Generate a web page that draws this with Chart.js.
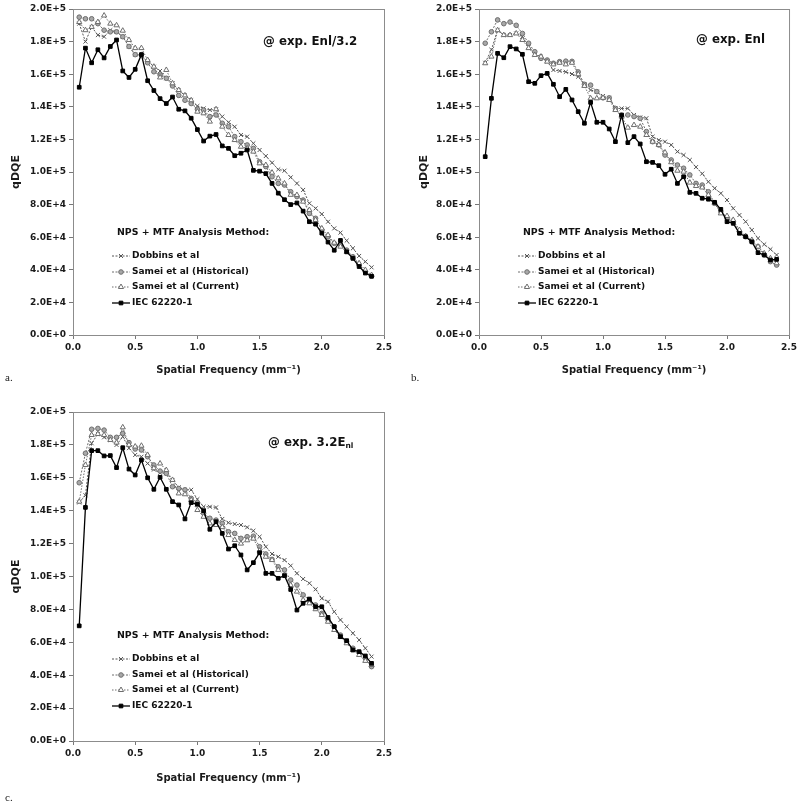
<!DOCTYPE html>
<html>
<head>
<meta charset="utf-8">
<script src="https://cdn.jsdelivr.net/npm/chart.js@4.4.0/dist/chart.umd.min.js"></script>
<style>
body { margin: 0; background: #fff; width: 800px; height: 806px; position: relative; overflow: hidden; }
canvas { position: absolute; }
.tag { position: absolute; font: 11px "Liberation Serif"; color: #222; }
</style>
</head>
<body>
<canvas id="chartA" width="400" height="390" style="left:0;top:0;width:400px;height:390px"></canvas>
<canvas id="chartB" width="395" height="390" style="left:405px;top:0;width:395px;height:390px"></canvas>
<canvas id="chartC" width="400" height="395" style="left:0;top:403px;width:400px;height:395px"></canvas>
<div class="tag" style="left:5px;top:371px">a.</div>
<div class="tag" style="left:411px;top:371px">b.</div>
<div class="tag" style="left:5px;top:791px">c.</div>
<script>
// spatial frequency (mm^-1)
const freq = [0.05, 0.1, 0.15, 0.2, 0.25, 0.3, 0.35, 0.4, 0.45, 0.5,
	0.55, 0.6, 0.65, 0.7, 0.75, 0.8, 0.85, 0.9, 0.95, 1.0,
	1.05, 1.1, 1.15, 1.2, 1.25, 1.3, 1.35, 1.4, 1.45, 1.5,
	1.55, 1.6, 1.65, 1.7, 1.75, 1.8, 1.85, 1.9, 1.95, 2.0,
	2.05, 2.1, 2.15, 2.2, 2.25, 2.3, 2.35, 2.4];

const seriesNames = ['Dobbins et al', 'Samei et al (Historical)', 'Samei et al (Current)', 'IEC 62220-1'];
const legendTitle = 'NPS + MTF Analysis Method:';
const xTitle = 'Spatial Frequency (mm\u207B\u00B9)';
const yTitle = 'qDQE';

// qDQE values in thousands (x 1E+3)
// panel a: @ exp. Enl/3.2
const dobbinsA = [191, 180, 189, 184, 183, 187, 186, 183, 177, 172,
	171, 168, 164.6, 162, 157.5, 154.4, 150, 147, 144, 140.5,
	139, 138, 138.5, 134, 130.5, 127.8, 122.7, 121.7, 117.6, 113.5,
	109.8, 105.7, 101.6, 100.8, 96.7, 93, 89, 80.8, 77.7, 74.2,
	69.5, 65.4, 62.8, 57.9, 53.2, 48.5, 45, 41.5];
const sameiHistA = [195, 194, 194, 191, 187, 186, 186, 183, 177, 172,
	172, 167, 161.5, 159.5, 157.5, 152.8, 147, 144, 142, 138.5,
	138, 134, 135, 129.9, 127.8, 121.7, 118.6, 116.6, 114.5, 106.3,
	103.3, 97.1, 93, 92, 87.9, 84.9, 82.8, 74.6, 71.6, 64.4,
	60.3, 56.2, 55.2, 52.1, 48, 42.9, 38.8, 36.2];
const sameiCurA = [192, 187, 189, 192, 196, 191, 190, 186.7, 181, 176,
	176, 168.7, 164.6, 158, 162.6, 154.4, 150.3, 147, 144, 137,
	136, 130.9, 138.5, 127.8, 122.7, 119.6, 115.5, 114.5, 112.5, 105.3,
	104.3, 99.6, 96.1, 93, 86, 85.9, 81.8, 76.7, 70.6, 65.4,
	61.3, 56.6, 54.2, 51.1, 47.7, 44, 39.9, 36.8];
const iecA = [152, 176, 167, 175, 170, 177, 181, 162, 158, 163,
	172, 156, 150, 145, 142, 146, 138.5, 137.5, 133, 126,
	119, 122, 123, 116, 114.5, 110, 111.5, 113.5, 101, 100.5,
	99, 93, 87, 83, 80, 81, 76, 69.5, 68, 62.5,
	57, 52, 58, 51, 47, 42, 38, 36];

// panel b: @ exp. Enl
const dobbinsB = [167, 175, 187, 184, 184, 185, 183, 177, 172, 170.8,
	167.7, 162.6, 162, 161.4, 160.1, 158.5, 153.8, 150.3, 149.3, 146.6,
	145.5, 139, 139, 139, 135, 133.5, 133, 121.7, 119.6, 118.6,
	116.6, 112.5, 110.4, 107.4, 103, 99, 94, 90, 86.9, 82.8,
	77.7, 73.6, 69.5, 64.4, 59.3, 55.6, 52.6, 49.1];
const sameiHistB = [179, 186, 193.3, 191, 192, 190, 185, 179, 173.8, 169.7,
	168.7, 166.7, 167.7, 168, 167.9, 161.4, 153.8, 153.3, 149.3, 145.5,
	145.5, 139, 134, 135, 134, 132.9, 124.8, 118.6, 116.6, 110.4,
	107.4, 104.3, 102.3, 98.2, 93, 92, 87.9, 80.8, 75.7, 71.6,
	69.5, 63.4, 60.3, 57.2, 54.2, 49.1, 45, 42.9];
const sameiCurB = [166.7, 170.8, 187, 184, 184, 185, 181, 176, 171.8, 170.8,
	167.7, 166, 167, 166, 167, 160, 152.8, 145.2, 145.2, 145.5,
	144.2, 138, 134, 127.2, 128.8, 127.8, 122.7, 118.6, 116.6, 112,
	106, 100.8, 100.2, 93.5, 91.4, 90.5, 85.9, 80.8, 74.6, 73,
	70.6, 64.4, 60.7, 58.3, 54.2, 50.1, 47.1, 44];
const iecB = [109.4, 145.2, 172.8, 170.1, 176.9, 175.5, 172.2, 155.4, 154.4, 159.1,
	160.5, 153.8, 146.2, 150.7, 144.2, 137, 129.9, 142.7, 130.5, 130.5,
	126.4, 118.6, 135, 118, 121.7, 117.2, 106.3, 105.9, 103.9, 98.6,
	101.7, 93, 97.1, 87.5, 86.9, 83.9, 83.3, 81.4, 77.1, 69.5,
	68.5, 62.4, 60.3, 57.2, 50.5, 49.1, 46, 46.4];

// panel c: @ exp. 3.2Enl
const dobbinsC = [145, 149.4, 181, 186.6, 184.6, 183, 180, 185, 178, 173.9,
	172.8, 168.7, 165, 163, 162.7, 158.7, 154.2, 152.7, 152.7, 147,
	142.4, 142.4, 142, 135, 132.7, 131.9, 131.3, 129.9, 127.8, 124.2,
	118.1, 113.7, 112, 110, 106.6, 101.9, 98.5, 95.9, 92.2, 86.7,
	84.7, 78.6, 73.6, 69.5, 65.5, 61.4, 56.4, 51.3];
const sameiHistC = [157, 174.9, 189.5, 190, 189, 184.6, 184.6, 187, 181.4, 177.5,
	176.9, 172.8, 167.8, 164.1, 162.7, 154.6, 153.5, 152.7, 147.5, 144.9,
	138.4, 135.4, 134.3, 132.3, 127.2, 126.2, 123.2, 124.2, 124.5, 118.1,
	113.7, 110.4, 105.9, 104, 97.9, 94.8, 88.8, 85.7, 82.7, 77.6,
	73.6, 69.5, 64.4, 60.4, 56.4, 53.7, 50.3, 45.2];
const sameiCurC = [145.5, 167.8, 186, 186.6, 186, 183, 181.4, 190.7, 180, 179,
	179.5, 173.9, 165.8, 168.7, 164.7, 158.7, 150.5, 150, 146.5, 140.4,
	136.3, 132.3, 131.3, 130, 125.2, 122.2, 120, 122, 123, 115.7,
	112, 110, 104, 100.9, 94.8, 90.8, 85.7, 83.7, 80.1, 76.6,
	72.5, 67.5, 63.4, 59.4, 55.3, 52.3, 48.7, 46.2];
const iecC = [70, 142, 176.5, 176.5, 173.3, 173.5, 166.2, 178.3, 165.3, 161.7,
	170.8, 160, 153, 160.3, 153, 145.5, 143.5, 135, 144.9, 143.9,
	140, 128.7, 133.3, 126.2, 116.7, 118.7, 113.1, 104, 108.4, 114.5,
	101.9, 101.9, 98.9, 100.5, 92.1, 79.6, 83.7, 86.3, 81.6, 81.6,
	75.1, 69.5, 63.4, 61, 55.3, 54.3, 51.7, 47.2];

const styles = [
	{ color: '#555555', fill: '#555555', dash: [2, 1.5], point: 'crossRot', r: 2.8 },
	{ color: '#6e6e6e', fill: '#a8a8a8', dash: [2, 1.5], point: 'circle', r: 2.3 },
	{ color: '#6e6e6e', fill: '#ffffff', dash: [1.5, 1.5], point: 'triangle', r: 3 },
	{ color: '#000000', fill: '#000000', dash: [], point: 'rect', r: 2.6 },
];
const legendRows = [247, 263, 278, 294];

Chart.defaults.font.family = '"DejaVu Sans"';
Chart.defaults.color = '#1a1a1a';

const decor = {
	id: 'decor',
	beforeDatasetsDraw(chart) {
		const { ctx, chartArea: a } = chart;
		ctx.save();
		ctx.strokeStyle = '#8c8c8c';
		ctx.lineWidth = 1;
		ctx.strokeRect(a.left + 0.5, a.top + 0.5, a.right - a.left, a.bottom - a.top);
		ctx.restore();
	},
	afterDraw(chart, args, opts) {
		const { ctx, chartArea: a } = chart;
		ctx.save();
		ctx.fillStyle = '#111';
		ctx.textBaseline = 'middle';
		// exposure note
		ctx.font = 'bold 11.8px "DejaVu Sans"';
		ctx.fillText(opts.note, a.left + opts.noteX, a.top + opts.noteY);
		if (opts.sub) {
			const w = ctx.measureText(opts.note).width;
			ctx.font = 'bold 7.5px "DejaVu Sans"';
			ctx.fillText(opts.sub, a.left + opts.noteX + w, a.top + opts.noteY + 3);
		}
		// legend
		ctx.font = 'bold 9.4px "DejaVu Sans"';
		ctx.fillText(legendTitle, a.left + 44, a.top + 224);
		ctx.font = 'bold 9px "DejaVu Sans"';
		chart.data.datasets.forEach((ds, i) => {
			const y = a.top + legendRows[i];
			ctx.save();
			ctx.strokeStyle = ds.borderColor;
			ctx.lineWidth = ds.borderWidth;
			ctx.setLineDash(ds.borderDash);
			ctx.beginPath();
			ctx.moveTo(a.left + 39, y);
			ctx.lineTo(a.left + 57, y);
			ctx.stroke();
			ctx.setLineDash([]);
			ctx.fillStyle = ds.pointBackgroundColor;
			ctx.lineWidth = 1;
			Chart.helpers.drawPoint(ctx, { pointStyle: ds.pointStyle, radius: ds.pointRadius, borderWidth: 1, rotation: 0 }, a.left + 48, y);
			ctx.restore();
			ctx.fillText(ds.label, a.left + 59, y);
		});
		ctx.restore();
	},
};

function buildChart(id, series, cfg) {
	const datasets = series.map((vals, i) => ({
		label: seriesNames[i],
		data: freq.map((f, j) => ({ x: f, y: vals[j] })),
		borderColor: styles[i].color,
		borderWidth: i === 3 ? 1.3 : 1,
		borderDash: styles[i].dash,
		pointStyle: styles[i].point,
		pointRadius: styles[i].r,
		pointBorderColor: styles[i].color,
		pointBackgroundColor: styles[i].fill,
		pointBorderWidth: 1,
		tension: 0,
		order: 3 - i,
	}));
	return new Chart(document.getElementById(id), {
		type: 'line',
		data: { datasets: datasets },
		options: {
			responsive: false,
			animation: false,
			layout: { padding: { top: 9, right: cfg.padRight, left: 0, bottom: 0 } },
			plugins: {
				legend: { display: false },
				tooltip: { enabled: false },
				decor: { note: cfg.note, sub: cfg.sub, noteX: cfg.noteX, noteY: cfg.noteY },
			},
			scales: {
				x: {
					type: 'linear',
					min: 0,
					max: 2.5,
					afterFit: (s) => { s.height = cfg.xHeight; },
					ticks: {
						stepSize: 0.5,
						padding: 3,
						font: { size: 9, weight: 'bold' },
						callback: (v) => v.toFixed(1),
					},
					grid: { drawOnChartArea: false, tickLength: 4, color: '#777' },
					border: { color: '#777' },
					title: {
						display: true,
						text: xTitle,
						font: { size: 10, weight: 'bold' },
						padding: { top: 0, bottom: cfg.xTitlePad },
					},
				},
				y: {
					min: 0,
					max: 200,
					afterFit: (s) => { s.width = cfg.yWidth; },
					ticks: {
						stepSize: 20,
						padding: 3,
						font: { size: 9, weight: 'bold' },
						callback: (v) => (v * 1000).toExponential(1).toUpperCase(),
					},
					grid: { drawOnChartArea: false, tickLength: 4, color: '#777' },
					border: { color: '#777' },
					title: {
						display: true,
						text: yTitle,
						font: { size: 11, weight: 'bold' },
						padding: { top: cfg.yTitlePad, bottom: 0 },
					},
				},
			},
		},
		plugins: [decor],
	});
}

buildChart('chartA', [dobbinsA, sameiHistA, sameiCurA, iecA], {
	padRight: 16, xHeight: 55, xTitlePad: 14, yWidth: 73, yTitlePad: 10,
	note: '@ exp. Enl/3.2', noteX: 190, noteY: 33,
});
buildChart('chartB', [dobbinsB, sameiHistB, sameiCurB, iecB], {
	padRight: 10, xHeight: 55, xTitlePad: 14, yWidth: 74, yTitlePad: 13,
	note: '@ exp. Enl', noteX: 217, noteY: 31,
});
buildChart('chartC', [dobbinsC, sameiHistC, sameiCurC, iecC], {
	padRight: 16, xHeight: 57, xTitlePad: 14, yWidth: 73, yTitlePad: 10,
	note: '@ exp. 3.2E', sub: 'nl', noteX: 195, noteY: 31,
});
</script>
</body>
</html>
